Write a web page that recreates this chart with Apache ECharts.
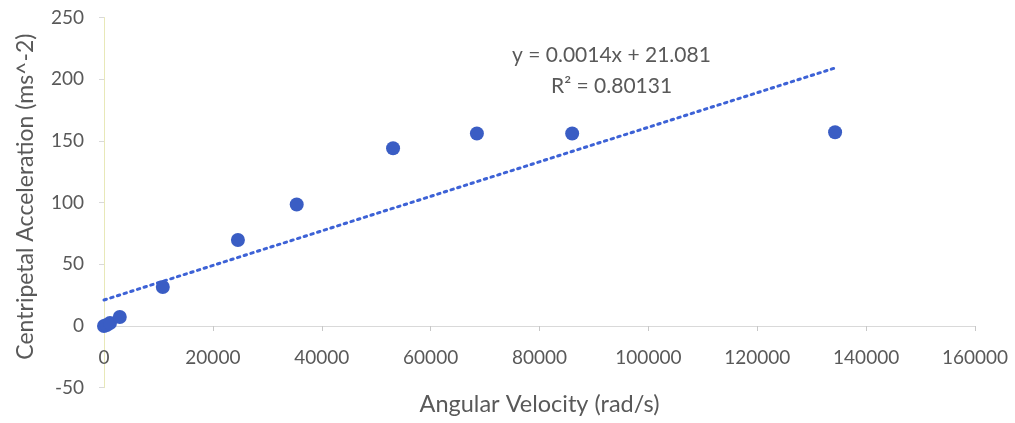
<!DOCTYPE html>
<html>
<head>
<meta charset="utf-8">
<script src="https://cdn.jsdelivr.net/npm/echarts@6/dist/echarts.min.js"></script>
<style>
  html, body { margin: 0; padding: 0; background: #fff; }
  #chart { width: 1015px; height: 423px; }
</style>
</head>
<body>
<div id="chart"></div>
<script>
// measured points (angular velocity, centripetal acceleration)
const velocity = [0, 500, 1100, 2900, 10800, 24600, 35400, 53100, 68500, 86000, 134300];
const accel = [0, 0.8, 2.4, 7.3, 31.6, 69.7, 98.5, 144, 156, 156, 157];

// linear trendline from the fit shown on the chart
const slope = 0.0014;
const intercept = 21.081;
const trendX = [0, 134300];

const points = velocity.map((v, i) => [v, accel[i]]);
const trend = trendX.map(x => [x, slope * x + intercept]);

const textColor = '#595959';
const font = 'Lato, "Open Sans", sans-serif';

const chart = echarts.init(document.getElementById('chart'));
chart.setOption({
  animation: false,
  grid: { left: 104, right: 40, top: 17.5, bottom: 35.3, outerBoundsMode: 'none', containLabel: false },
  xAxis: {
    type: 'value',
    min: 0, max: 160000, interval: 20000,
    position: 'bottom',
    offset: -61.7, // axis sits on y = 0, not at the grid bottom
    name: 'Angular Velocity (rad/s)',
    nameLocation: 'middle',
    nameGap: 66,
    nameTextStyle: { color: textColor, fontSize: 23.5, fontFamily: font },
    axisLine: { onZero: false, lineStyle: { color: '#d9d9d9' } },
    axisTick: { show: true, length: 5, lineStyle: { color: '#c8c8c8' } },
    axisLabel: { color: textColor, fontSize: 19, fontFamily: font, margin: 22, formatter: v => String(v) },
    splitLine: { show: false }
  },
  yAxis: {
    type: 'value',
    min: -50, max: 250, interval: 50,
    name: 'Centripetal Acceleration (ms^-2)',
    nameLocation: 'middle',
    nameGap: 67,
    nameTextStyle: { color: textColor, fontSize: 23, fontFamily: font, padding: [0, 0, 0, 12] },
    axisLine: { show: true, lineStyle: { color: '#e8e8b8' } },
    axisTick: { show: true, length: 5, lineStyle: { color: '#d9d9d9' } },
    axisLabel: { color: textColor, fontSize: 19, fontFamily: font, margin: 20 },
    splitLine: { show: false }
  },
  graphic: [
    {
      type: 'text', left: 512, top: 45,
      style: { text: 'y = 0.0014x + 21.081', fill: textColor, fontSize: 21, fontFamily: font }
    },
    {
      type: 'text', left: 551, top: 76,
      style: { text: 'R² = 0.80131', fill: textColor, fontSize: 21, fontFamily: font }
    }
  ],
  series: [
    {
      type: 'line',
      data: trend,
      symbol: 'none',
      silent: true,
      lineStyle: { color: '#3d62d6', width: 3, type: [2.5, 4.5], cap: 'round' },
      z: 1
    },
    {
      type: 'scatter',
      data: points,
      symbolSize: 14,
      itemStyle: { color: '#3a5dc4', opacity: 1 },
      z: 2
    }
  ]
});
</script>
</body>
</html>
